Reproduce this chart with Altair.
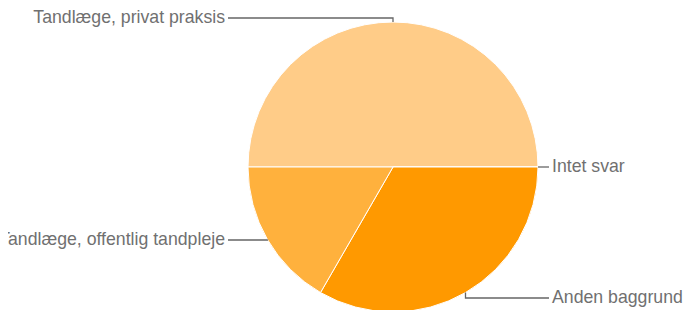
import math
import altair as alt
import pandas as pd

# ---- data ----
categories = ["Tandlæge, privat praksis", "Intet svar", "Anden baggrund", "Tandlæge, offentlig tandpleje"]
values = [6, 0, 4, 2]
colors = ["#FFCC88", "#FFA31F", "#FF9900", "#FFB13D"]

# ---- layout ----
W, H = 677, 320
CX, CY, R = 385, 159, 145
START = -math.pi / 2
label_y = [10, 159, 290, 232]
label_side = ["left", "right", "right", "left"]
LEFT_LINE_END, LEFT_TEXT_X = 220, 217
RIGHT_LINE_END, RIGHT_TEXT_X = 541, 544
FS = 17.7

total = sum(values)
df = pd.DataFrame({"cat": categories, "val": values, "order": list(range(len(values)))})

# leader lines computed from slice mid-angles
line_rows, text_rows = [], []
cum = 0
for i, (c, v) in enumerate(zip(categories, values)):
    a0 = START + 2 * math.pi * cum / total
    a1 = START + 2 * math.pi * (cum + v) / total
    cum += v
    mid = (a0 + a1) / 2
    ex = CX + R * math.sin(mid)
    ey = CY - R * math.cos(mid)
    ly = label_y[i]
    lx = LEFT_LINE_END if label_side[i] == "left" else RIGHT_LINE_END
    pts = [(ex, ey), (ex, ly), (lx, ly)]
    for k, (px, py) in enumerate(pts):
        line_rows.append({"cat": c, "x": px, "y": py, "k": k})
    text_rows.append({"cat": c, "y": ly, "side": label_side[i],
                      "tx": LEFT_TEXT_X if label_side[i] == "left" else RIGHT_TEXT_X})

lines = pd.DataFrame(line_rows)
texts = pd.DataFrame(text_rows)

xs = alt.Scale(domain=[0, W], range=[0, W])
ys = alt.Scale(domain=[0, H], range=[0, H])

pie = alt.Chart(df).mark_arc(radius=R, stroke="white", strokeWidth=1).encode(
    theta=alt.Theta("val:Q", stack=True, scale=alt.Scale(range=[START, START + 2 * math.pi])),
    order=alt.Order("order:Q"),
    color=alt.Color("cat:N", scale=alt.Scale(domain=categories, range=colors), legend=None),
    x=alt.value(CX),
    y=alt.value(CY),
)

leader = alt.Chart(lines).mark_line(color="#666666", strokeWidth=1.3, interpolate="linear").encode(
    x=alt.X("x:Q", scale=xs, axis=None),
    y=alt.Y("y:Q", scale=ys, axis=None),
    detail="cat:N",
    order="k:Q",
)

left_text = alt.Chart(texts[texts.side == "left"]).mark_text(
    align="right", baseline="middle", font="Liberation Sans", fontSize=FS, color="#707070"
).encode(
    x=alt.X("tx:Q", scale=xs, axis=None),
    y=alt.Y("y:Q", scale=ys, axis=None),
    text="cat:N",
)
right_text = alt.Chart(texts[texts.side == "right"]).mark_text(
    align="left", baseline="middle", font="Liberation Sans", fontSize=FS, color="#707070"
).encode(
    x=alt.X("tx:Q", scale=xs, axis=None),
    y=alt.Y("y:Q", scale=ys, axis=None),
    text="cat:N",
)

chart = alt.layer(pie, leader, left_text, right_text).properties(
    width=W, height=H, autosize=alt.AutoSizeParams(type="none"), padding=0
).configure_view(stroke=None, clip=False)

chart.save("out.html", embed_options={"renderer": "svg", "actions": False})
